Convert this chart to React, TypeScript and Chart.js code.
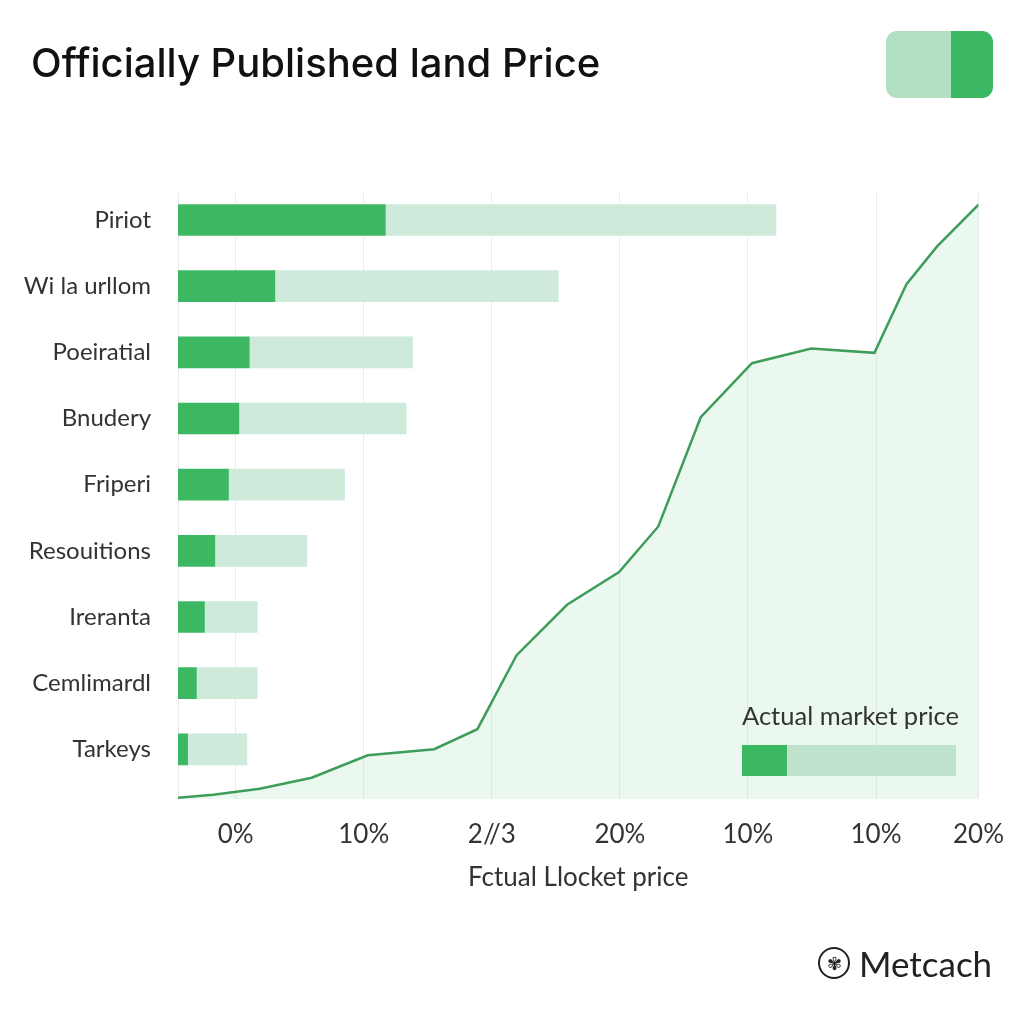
import React, { useEffect, useRef } from "react";
import { Chart, registerables } from "chart.js";

Chart.register(...registerables);

const CATEGORIES = [
  "Piriot",
  "Wi la urllom",
  "Poeiratial",
  "Bnudery",
  "Friperi",
  "Resouitions",
  "Ireranta",
  "Cemlimardl",
  "Tarkeys",
];
// Officially published price (dark segment end)
const PUBLISHED = [25.9, 12.1, 8.9, 7.6, 6.3, 4.6, 3.3, 2.3, 1.2];
// Actual market price (light segment end)
const MARKET = [74.7, 47.5, 29.3, 28.5, 20.8, 16.1, 9.9, 9.9, 8.6];

// Area curve
const CURVE_X = [0, 4.4, 10.2, 16.7, 23.7, 32.0, 37.4, 42.3, 48.6, 55.1, 60.0, 65.3, 71.7, 79.1, 87.0, 91.0, 94.8, 100];
const CURVE_Y = [0.2, 0.7, 1.7, 3.5, 7.2, 8.2, 11.5, 23.7, 32.0, 37.4, 44.9, 62.9, 71.8, 74.2, 73.5, 84.8, 91.0, 97.9];

const X_TICK_VALUES = [7.2, 23.2, 39.2, 55.2, 71.2, 87.2, 100];
const X_TICK_LABELS = ["0%", "10%", "2//3", "20%", "10%", "10%", "20%"];

const DARK = "#3cb863";
const LIGHT = "#cdeadb";
const LINE = "#3f9d5b";
const FONT = "Lato, 'Open Sans', sans-serif";

export default function App() {
  const canvasRef = useRef<HTMLCanvasElement | null>(null);

  useEffect(() => {
    const canvas = canvasRef.current;
    if (!canvas) return;
    const chart = new Chart(canvas, {
      type: "bar",
      data: {
        datasets: [
          {
            type: "bar",
            label: "Officially published",
            indexAxis: "y",
            xAxisID: "x",
            yAxisID: "y",
            data: CATEGORIES.map((_, i) => ({ x: [0, PUBLISHED[i]], y: i })),
            backgroundColor: DARK,
            barThickness: 31,
            grouped: false,
            borderWidth: 0,
            order: 1,
          } as any,
          {
            type: "bar",
            label: "Actual market price",
            indexAxis: "y",
            xAxisID: "x",
            yAxisID: "y",
            data: CATEGORIES.map((_, i) => ({ x: [PUBLISHED[i], MARKET[i]], y: i })),
            backgroundColor: LIGHT,
            barThickness: 31,
            grouped: false,
            borderWidth: 0,
            order: 2,
          } as any,
          {
            type: "line",
            label: "Trend",
            xAxisID: "x",
            yAxisID: "y2",
            data: CURVE_X.map((x, i) => ({ x, y: CURVE_Y[i] })),
            borderColor: LINE,
            borderWidth: 2.5,
            backgroundColor: "rgba(61,186,99,0.1)",
            fill: "origin",
            pointRadius: 0,
            tension: 0,
            order: 3,
          } as any,
        ],
      },
      options: {
        animation: false,
        responsive: true,
        maintainAspectRatio: false,
        layout: { padding: { top: 192, right: 44, bottom: 130, left: 0 } },
        plugins: {
          legend: { display: false },
          title: { display: false },
          tooltip: { enabled: false },
        },
        scales: {
          x: {
            type: "linear",
            position: "bottom",
            offset: false,
            min: 0,
            max: 100,
            afterBuildTicks: (scale: any) => {
              scale.ticks = X_TICK_VALUES.map((v) => ({ value: v }));
            },
            afterFit: (scale: any) => {
              scale.height = 95;
            },
            ticks: {
              autoSkip: false,
              maxRotation: 0,
              padding: 20,
              color: "#333",
              font: { family: FONT, size: 26 },
              callback: (v: any) => {
                const idx = X_TICK_VALUES.indexOf(Number(v));
                return idx >= 0 ? X_TICK_LABELS[idx] : "";
              },
            },
            grid: { color: "#ececec", lineWidth: 1, drawTicks: false, offset: false },
            border: { display: false },
            title: {
              display: true,
              text: "Fctual Llocket price",
              color: "#333",
              font: { family: FONT, size: 26 },
              padding: { top: 4, bottom: 1 },
            },
          },
          y: {
            type: "linear",
            position: "left",
            offset: false,
            reverse: true,
            min: -0.423,
            max: 8.75,
            afterBuildTicks: (scale: any) => {
              scale.ticks = CATEGORIES.map((_, i) => ({ value: i }));
            },
            afterFit: (scale: any) => {
              scale.width = 178;
            },
            ticks: {
              autoSkip: false,
              padding: 27,
              color: "#333",
              font: { family: FONT, size: 24 },
              callback: (v: any) => CATEGORIES[Number(v)] ?? "",
            },
            grid: { display: false, drawTicks: false, offset: false },
            border: { display: true, color: "#ececec", width: 1 },
          },
          y2: {
            type: "linear",
            position: "right",
            display: false,
            offset: false,
            min: 0,
            max: 100,
          },
        },
      } as any,
    });
    return () => chart.destroy();
  }, []);

  return (
    <div
      style={{
        position: "fixed",
        left: 0,
        top: 0,
        width: 1024,
        height: 1024,
        background: "#fff",
        fontFamily: FONT,
      }}
    >
      <div style={{ position: "absolute", left: 0, top: 0, width: 1024, height: 1024 }}>
        <canvas ref={canvasRef} />
      </div>
      <div
        style={{
          position: "absolute",
          left: 31,
          top: 37,
          fontSize: 40,
          fontWeight: 500,
          fontFamily: "Inter, Lato, sans-serif",
          color: "#111",
          whiteSpace: "nowrap",
          lineHeight: "52px",
        }}
      >
        Officially Published land Price
      </div>
      <div
        style={{
          position: "absolute",
          left: 886,
          top: 31,
          width: 107,
          height: 67,
          borderRadius: 11,
          overflow: "hidden",
          display: "flex",
        }}
      >
        <div style={{ width: 65, background: "#b3dfc3" }} />
        <div style={{ flex: 1, background: DARK }} />
      </div>
      <div
        style={{
          position: "absolute",
          left: 742,
          top: 699,
          fontSize: 25.5,
          color: "#333",
          whiteSpace: "nowrap",
          lineHeight: "32px",
        }}
      >
        Actual market price
      </div>
      <div style={{ position: "absolute", left: 742, top: 745, width: 214, height: 31, display: "flex" }}>
        <div style={{ width: 45, background: DARK }} />
        <div style={{ flex: 1, background: "#bfe3cc" }} />
      </div>
      <div
        style={{
          position: "absolute",
          left: 818,
          top: 947,
          width: 28,
          height: 28,
          borderRadius: "50%",
          border: "2px solid #222",
          display: "flex",
          alignItems: "center",
          justifyContent: "center",
          fontSize: 18,
          color: "#222",
          lineHeight: 1,
        }}
      >
        ✾
      </div>
      <div
        style={{
          position: "absolute",
          left: 859,
          top: 941,
          fontSize: 35,
          color: "#222",
          whiteSpace: "nowrap",
          lineHeight: "44px",
        }}
      >
        Metcach
      </div>
    </div>
  );
}
